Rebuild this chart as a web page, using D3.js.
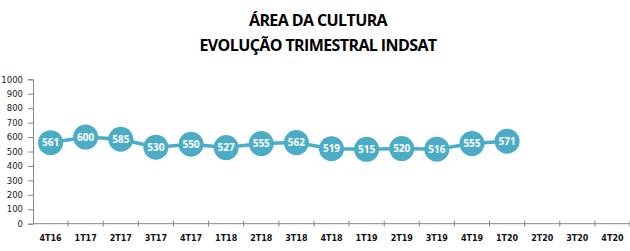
<!DOCTYPE html>
<html>
<head>
<meta charset="utf-8">
<script src="https://cdn.jsdelivr.net/npm/d3@7"></script>
<style>
  body { margin: 0; background: #fff; }
  svg { display: block; }
</style>
</head>
<body>
<div id="chart"></div>
<script>
var titleLines = ['ÁREA DA CULTURA', 'EVOLUÇÃO TRIMESTRAL INDSAT'];
var quarters = ['4T16', '1T17', '2T17', '3T17', '4T17', '1T18', '2T18', '3T18', '4T18',
  '1T19', '2T19', '3T19', '4T19', '1T20', '2T20', '3T20', '4T20'];
var areaValues = [561, 600, 585, 530, 550, 527, 555, 562, 519, 515, 520, 516, 555, 571];
var yTicks = [0, 100, 200, 300, 400, 500, 600, 700, 800, 900, 1000];

var width = 630, height = 251;
var plotLeft = 33, plotRight = 630, plotTop = 79.3, plotBottom = 223.7;
var lineColor = '#4bacc6';
var axisColor = '#868686';

var svg = d3.select('#chart').append('svg')
  .attr('width', width)
  .attr('height', height);

// title
svg.selectAll('text.title')
  .data(titleLines)
  .enter()
  .append('text')
  .attr('class', 'title')
  .attr('x', 318)
  .attr('y', function(d, i) { return 26 + i * 25; })
  .attr('text-anchor', 'middle')
  .attr('font-family', 'Open Sans, sans-serif')
  .attr('font-weight', 'bold')
  .attr('font-size', '16px')
  .attr('letter-spacing', '-0.6px')
  .attr('fill', '#000')
  .text(function(d) { return d; });

var x = d3.scaleBand().domain(quarters).range([plotLeft, plotRight]);
var y = d3.scaleLinear().domain([0, 1000]).range([plotBottom, plotTop]);

// y axis
var yAxis = svg.append('g')
  .attr('transform', 'translate(' + plotLeft + ',0)')
  .call(d3.axisLeft(y).tickValues(yTicks).tickFormat(d3.format('d')).tickSize(5).tickPadding(5));
yAxis.select('.domain').attr('stroke', axisColor);
yAxis.selectAll('.tick line').attr('stroke', axisColor);
yAxis.selectAll('text')
  .attr('font-family', 'DejaVu Sans, sans-serif')
  .attr('font-size', '8.5px')
  .attr('fill', '#222');

// x axis: ticks on band boundaries
var xAxis = svg.append('g');
xAxis.append('line')
  .attr('x1', plotLeft).attr('x2', plotRight)
  .attr('y1', plotBottom).attr('y2', plotBottom)
  .attr('stroke', axisColor);
xAxis.selectAll('line.tick')
  .data(quarters)
  .enter()
  .append('line')
  .attr('class', 'tick')
  .attr('x1', function(d) { return x(d) + x.bandwidth(); })
  .attr('x2', function(d) { return x(d) + x.bandwidth(); })
  .attr('y1', plotBottom - 3)
  .attr('y2', plotBottom + 3)
  .attr('stroke', axisColor);
xAxis.selectAll('text')
  .data(quarters)
  .enter()
  .append('text')
  .attr('x', function(d) { return x(d) + x.bandwidth() / 2; })
  .attr('y', plotBottom + 17)
  .attr('text-anchor', 'middle')
  .attr('font-family', 'DejaVu Sans, sans-serif')
  .attr('font-weight', 'bold')
  .attr('font-size', '8px')
  .attr('fill', '#111')
  .text(function(d) { return d; });

var points = areaValues.map(function(v, i) {
  return { q: quarters[i], v: v };
});

var line = d3.line()
  .x(function(d) { return x(d.q) + x.bandwidth() / 2; })
  .y(function(d) { return y(d.v); });

svg.append('path')
  .datum(points)
  .attr('d', line)
  .attr('fill', 'none')
  .attr('stroke', lineColor)
  .attr('stroke-width', 3.5);

svg.selectAll('circle.marker')
  .data(points)
  .enter()
  .append('circle')
  .attr('class', 'marker')
  .attr('cx', function(d) { return x(d.q) + x.bandwidth() / 2; })
  .attr('cy', function(d) { return y(d.v); })
  .attr('r', 12.5)
  .attr('fill', lineColor);

svg.selectAll('text.label')
  .data(points)
  .enter()
  .append('text')
  .attr('class', 'label')
  .attr('x', function(d) { return x(d.q) + x.bandwidth() / 2; })
  .attr('y', function(d) { return y(d.v) + 3.5; })
  .attr('text-anchor', 'middle')
  .attr('font-family', 'Open Sans, sans-serif')
  .attr('font-weight', 'bold')
  .attr('font-size', '10px')
  .attr('fill', '#fff')
  .text(function(d) { return d.v; });
</script>
</body>
</html>
